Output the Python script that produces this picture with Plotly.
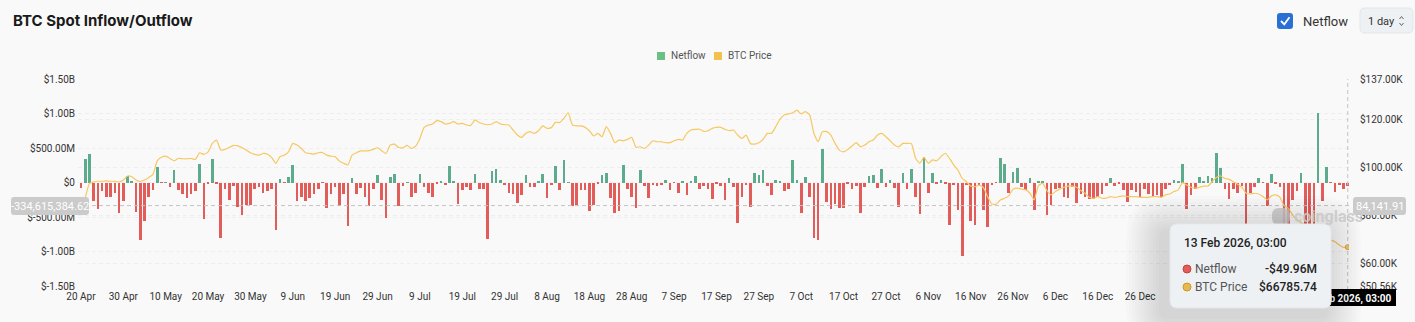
import pandas as pd
import plotly.graph_objects as go

# ---------------- data ----------------
start_date = "2025-04-20"

# daily spot netflow, millions of USD
netflow_m = [
    -80, 340, 415, -275, -385, -130, -217, -210, -145, -445,
    -265, 100, 20, -425, -835, -565, -210, -110, 230, -5,
    5, -58, 185, -105, -170, -230, -170, -130, 275, -525,
    -25, 345, -25, -810, -90, -260, -50, -360, -470, -330,
    -325, -90, -70, -145, -120, -90, -690, 50, -5, 80,
    255, -275, -210, -275, -218, -165, -90, -5, -370, -170,
    -58, -340, -170, -625, 72, -160, -82, -215, -340, -97,
    105, -250, -515, 77, 120, -340, -48, 5, -203, -155,
    125, -58, -145, -210, -20, 25, -30, 240, 15, -315,
    -105, -68, -115, 130, -88, -88, -815, 160, 195, 40,
    -30, -155, -165, -290, -180, 115, -58, -58, 20, 125,
    -230, -40, 245, -105, 330, 5, -340, -330, -115, -115,
    -415, -330, -20, 110, 140, -230, -440, -410, 250, -88,
    -210, -370, 180, -48, -230, -40, -53, -35, 40, -115,
    -5, -145, 10, -185, 15, 90, -97, -48, -97, -245,
    -15, -45, -250, 72, -68, -589, -212, -30, -358, 135,
    116, 188, -53, -188, 30, 10, -126, -87, 328, 39,
    -444, 87, -208, -802, -831, 488, -285, -377, -309, -367,
    -367, -15, -97, -48, -444, -72, 92, 111, -77, 193,
    -58, 30, -77, -348, 135, -101, 198, -217, -459, 367,
    -150, 140, -15, 39, -10, -613, -40, -400, -1072, -30,
    -565, -618, -40, -401, -638, -30, -5, 353, 266, -145,
    159, 213, -72, -106, 72, -401, 10, 20, -478, -329,
    -97, -77, -208, -222, -58, -300, -160, -203, -232, -242,
    -203, -169, -48, 72, -48, -24, -106, -285, -106, -140,
    -213, -97, -169, -213, -174, -213, -87, -39, 34, 24,
    266, -386, -188, -97, 82, 24, 92, 63, 425, 203,
    -97, -242, -97, -145, -48, -620, -145, -68, 63, -5,
    -338, 126, -24, -58, -650, -600, -251, -130, 135, -720,
    -700, -640, 1014, -266, 227, -5, -135, -34, -87, -49.96,
]

# BTC price, thousands of USD
btc_price_k = [
    85.2, 87.6, 93.4, 94.0, 94.3, 94.3, 94.5, 94.3, 94.3, 94.0,
    94.8, 96.5, 96.2, 94.8, 94.2, 94.8, 95.9, 97.2, 102.8, 104.3,
    104.8, 103.8, 102.9, 103.9, 103.7, 103.7, 103.8, 103.4, 106.2, 105.5,
    106.6, 110.1, 111.5, 107.3, 107.6, 108.4, 109.3, 109.1, 108.4, 107.3,
    106.2, 105.5, 105.2, 105.9, 105.6, 104.3, 101.8, 104.6, 105.2, 106.6,
    110.1, 109.4, 108.0, 106.2, 105.9, 105.6, 106.2, 106.3, 105.2, 104.8,
    104.5, 102.7, 101.8, 101.1, 105.2, 106.2, 107.0, 107.0, 107.1, 107.6,
    108.3, 107.0, 105.9, 109.4, 109.8, 108.4, 108.3, 109.3, 108.0, 109.0,
    112.2, 116.8, 117.8, 118.2, 119.6, 119.2, 118.2, 118.5, 119.2, 118.2,
    118.5, 117.8, 117.6, 119.9, 118.8, 118.2, 117.9, 118.2, 119.2, 118.2,
    117.9, 117.8, 115.7, 113.6, 112.6, 114.3, 115.0, 114.3, 115.4, 117.4,
    116.4, 116.7, 118.9, 118.8, 120.6, 122.9, 117.8, 117.4, 117.4, 116.8,
    115.4, 113.2, 114.3, 112.9, 117.1, 114.3, 110.4, 111.5, 111.2, 111.8,
    112.6, 108.5, 108.7, 108.0, 109.4, 111.2, 110.8, 110.8, 110.4, 110.4,
    111.2, 111.8, 111.5, 114.3, 115.7, 116.0, 116.0, 115.1, 115.4, 116.4,
    116.8, 116.8, 116.0, 115.4, 115.7, 113.6, 112.2, 113.6, 110.1, 109.8,
    110.4, 111.8, 114.3, 114.3, 117.1, 120.2, 122.0, 122.4, 122.9, 124.0,
    122.4, 123.4, 122.0, 114.3, 110.8, 115.0, 115.0, 113.6, 110.1, 107.3,
    106.6, 107.6, 109.0, 110.4, 108.7, 109.4, 110.8, 111.5, 113.6, 114.3,
    112.9, 111.2, 109.4, 108.7, 110.1, 110.1, 110.1, 103.9, 101.8, 104.3,
    101.8, 103.2, 102.9, 104.6, 106.0, 103.9, 101.1, 99.0, 95.5, 94.1,
    92.3, 92.0, 92.7, 91.7, 87.9, 84.8, 84.7, 86.5, 87.2, 88.2,
    91.0, 91.4, 91.0, 90.7, 89.3, 86.5, 92.5, 93.4, 90.4, 88.6,
    90.0, 91.0, 91.8, 92.3, 92.3, 91.8, 90.4, 89.3, 87.6, 87.2,
    87.9, 87.2, 87.2, 87.9, 87.6, 87.9, 88.2, 87.9, 87.9, 87.9,
    87.6, 87.6, 87.6, 87.9, 87.9, 87.6, 88.6, 89.0, 90.0, 90.7,
    93.7, 92.7, 91.8, 91.4, 91.8, 92.3, 92.3, 94.1, 95.9, 96.5,
    95.5, 95.1, 94.1, 93.1, 91.8, 89.3, 89.0, 89.3, 89.0, 87.9,
    86.5, 88.2, 88.6, 87.6, 84.0, 83.0, 80.2, 78.4, 77.0, 75.6,
    72.8, 65.5, 70.6, 70.9, 70.0, 69.7, 69.0, 67.7, 66.7, 66.78574,
]

left_tick_vals = [1.5e9, 1.0e9, 0.5e9, 0, -0.5e9, -1.0e9, -1.5e9]
left_tick_text = ["$1.50B", "$1.00B", "$500.00M", "$0", "$-500.00M", "$-1.00B", "$-1.50B"]
right_tick_vals = [137000, 120000, 100000, 80000, 60000, 50560]
right_tick_text = ["$137.00K", "$120.00K", "$100.00K", "$80.00K", "$60.00K", "$50.56K"]
# date ticks every ten days (the January/February ones sit under the tooltip)
x_tick_dates = pd.date_range("2025-04-20", "2025-12-26", freq="10D")

cursor_netflow = -334615384.62
cursor_price = 84141.91
hover_label = "13 Feb 2026, 03:00"

# ---------------- derived series ----------------
dates = pd.date_range(start_date, periods=len(netflow_m), freq="D")
netflow = [v * 1e6 for v in netflow_m]
price = [v * 1e3 for v in btc_price_k]

GREEN = "#5dab8d"
RED = "#e25c5a"
GOLD = "#f6c862"
bar_colors = [GREEN if v >= 0 else RED for v in netflow]

# ---------------- geometry helpers (pixel -> paper) ----------------
W, H = 1415, 322
ML, MR, MT, MB = 78, 66, 79, 36
PW, PH = W - ML - MR, H - MT - MB


def X(px):
    return (px - ML) / PW


def Y(py):
    return (H - MB - py) / PH


def rrect(x0, y0, x1, y1, r):
    return (
        f"M {X(x0 + r)},{Y(y0)} L {X(x1 - r)},{Y(y0)} "
        f"Q {X(x1)},{Y(y0)} {X(x1)},{Y(y0 + r)} L {X(x1)},{Y(y1 - r)} "
        f"Q {X(x1)},{Y(y1)} {X(x1 - r)},{Y(y1)} L {X(x0 + r)},{Y(y1)} "
        f"Q {X(x0)},{Y(y1)} {X(x0)},{Y(y1 - r)} L {X(x0)},{Y(y0 + r)} "
        f"Q {X(x0)},{Y(y0)} {X(x0 + r)},{Y(y0)} Z"
    )


def text(px, py, s, size=10, color="#333", xanchor="left", weight="normal",
         family="Roboto"):
    return dict(x=X(px), y=Y(py), xref="paper", yref="paper", text=s,
                showarrow=False, xanchor=xanchor, yanchor="middle",
                font=dict(family=family, size=size, color=color, weight=weight))


# ---------------- figure ----------------
fig = go.Figure()
fig.add_trace(go.Bar(
    x=dates, y=netflow, name="Netflow", marker=dict(color=bar_colors, line=dict(width=0)),
    width=0.62 * 86400000, showlegend=False, hoverinfo="skip",
))
fig.add_trace(go.Scatter(
    x=dates, y=price, name="BTC Price", yaxis="y2", mode="lines",
    line=dict(color=GOLD, width=1.2, shape="spline", smoothing=0.5),
    showlegend=False, hoverinfo="skip",
))
# end-of-series price marker
fig.add_trace(go.Scatter(
    x=[dates[-1]], y=[price[-1]], yaxis="y2", mode="markers",
    marker=dict(color=GOLD, size=5, line=dict(color="#e0a830", width=1)),
    showlegend=False, hoverinfo="skip",
))

day = pd.Timedelta(days=1)
grid = dict(showgrid=True, gridcolor="#eeeeee", griddash="4px,3px", gridwidth=1)
axis_font = dict(family="Roboto", size=10, color="#333")

fig.update_layout(
    width=W, height=H,
    margin=dict(l=ML, r=MR, t=MT, b=MB),
    paper_bgcolor="#f9f9f9", plot_bgcolor="#f9f9f9",
    bargap=0,
    xaxis=dict(
        type="date",
        range=[str(dates[0] - 0.7 * day), str(dates[-1] + 0.3 * day)],
        tickvals=list(x_tick_dates),
        ticktext=[f"{d.day} {d.strftime('%b')}" for d in x_tick_dates],
        showgrid=False, zeroline=False, showline=False, ticks="",
        tickfont=axis_font, ticklabelstandoff=3,
    ),
    yaxis=dict(
        range=[-1.5e9, 1.5e9], tickvals=left_tick_vals, ticktext=left_tick_text,
        zeroline=False, showline=False, ticks="", tickfont=axis_font,
        ticklabelstandoff=2, **grid,
    ),
    yaxis2=dict(
        overlaying="y", side="right", range=[50560, 137000],
        tickvals=right_tick_vals, ticktext=right_tick_text,
        zeroline=False, showline=False, ticks="", tickfont=axis_font,
        ticklabelstandoff=10, **grid,
    ),
)

shapes = []
annotations = []

# watermark (light, drawn over the bars)
shapes.append(dict(type="path", xref="paper", yref="paper",
                   path=rrect(1272, 208, 1290, 225, 7),
                   fillcolor="rgba(205,205,205,0.85)", line=dict(width=0), layer="above"))
annotations.append(text(1292, 216, "coinglass", size=16, color="rgba(200,200,200,0.85)",
                        weight="bold"))

# crosshair lines
shapes.append(dict(type="line", xref="paper", yref="y", x0=0, x1=1,
                   y0=cursor_netflow, y1=cursor_netflow,
                   line=dict(color="#c4c4c4", width=1, dash="4px,3px"), layer="above"))
shapes.append(dict(type="line", xref="x", yref="paper", x0=dates[-1], x1=dates[-1],
                   y0=Y(290), y1=1,
                   line=dict(color="#c4c4c4", width=1, dash="4px,3px"), layer="above"))

# crosshair value boxes
shapes.append(dict(type="path", xref="paper", yref="paper", path=rrect(11, 197, 89, 215, 3),
                   fillcolor="#cbcbcb", line=dict(width=0), layer="above"))
shapes.append(dict(type="path", xref="paper", yref="paper", path=rrect(1353, 197, 1406, 215, 3),
                   fillcolor="#cbcbcb", line=dict(width=0), layer="above"))
annotations.append(text(50, 206.5, f"{cursor_netflow:,.2f}", size=11, color="white",
                        xanchor="center"))
annotations.append(text(1379.5, 206.5, f"{cursor_price:,.2f}", size=11, color="white",
                        xanchor="center"))

# date box under the cursor (partly covered by the tooltip)
shapes.append(dict(type="rect", xref="paper", yref="paper",
                   x0=X(1300), x1=X(1396), y0=Y(306), y1=Y(289),
                   fillcolor="#000000", line=dict(width=0), layer="above",
                   label=dict(text=hover_label,
                              font=dict(family="Roboto", size=10, color="white", weight="bold"))))

# tooltip shadow + body
tx0, ty0, tx1, ty1 = 1170, 224, 1331, 308
for k in range(12, 0, -1):
    g = 3 * k
    shapes.append(dict(type="path", xref="paper", yref="paper",
                       path=rrect(tx0 - g - 8, ty0 - g + 8, tx1 + g - 6, ty1 + g + 8, 6 + g),
                       fillcolor="rgba(0,0,0,0.011)", line=dict(width=0), layer="above"))
shapes.append(dict(type="path", xref="paper", yref="paper", path=rrect(tx0, ty0, tx1, ty1, 7),
                   fillcolor="#eef1f4", line=dict(color="#e3e7eb", width=1), layer="above"))

# tooltip series dots
for cy, col, edge in [(269, RED, "#c9403e"), (287, "#e8b94a", "#c99a2c")]:
    shapes.append(dict(type="circle", xref="paper", yref="paper",
                       x0=X(1183), x1=X(1191), y0=Y(cy + 4), y1=Y(cy - 4),
                       fillcolor=col, line=dict(color=edge, width=1), layer="above"))

annotations.append(text(1182, 243, hover_label, size=12, color="#222", weight=500))
annotations.append(text(1193, 269, "Netflow", size=12, color="#555"))
annotations.append(text(1319, 269, f"-${abs(netflow_m[-1]):.2f}M", size=12, color="#222",
                        xanchor="right", weight=500))
annotations.append(text(1193, 287, "BTC Price", size=12, color="#555"))
annotations.append(text(1319, 287, f"${price[-1]:.2f}", size=12, color="#222",
                        xanchor="right", weight=500))

# title
annotations.append(text(11, 20, "BTC Spot Inflow/Outflow", size=15, color="#1a1a1a",
                        weight="bold", family="Inter"))

# legend
shapes.append(dict(type="rect", xref="paper", yref="paper", x0=X(657), x1=X(665),
                   y0=Y(60), y1=Y(52), fillcolor="#6cc086", line=dict(width=0), layer="above"))
annotations.append(text(669, 56, "Netflow", size=10, color="#555"))
shapes.append(dict(type="rect", xref="paper", yref="paper", x0=X(714), x1=X(722),
                   y0=Y(60), y1=Y(52), fillcolor="#f3c14e", line=dict(width=0), layer="above"))
annotations.append(text(726, 56, "BTC Price", size=10, color="#555"))

# netflow checkbox
shapes.append(dict(type="path", xref="paper", yref="paper", path=rrect(1277, 13, 1293, 29, 3),
                   fillcolor="#2a6fd3", line=dict(width=0), layer="above"))
shapes.append(dict(type="path", xref="paper", yref="paper",
                   path=f"M {X(1281)},{Y(21)} L {X(1284.3)},{Y(24.3)} L {X(1289.5)},{Y(17.2)}",
                   line=dict(color="white", width=1.8), layer="above"))
annotations.append(text(1301, 21, "Netflow", size=13, color="#333"))

# interval selector
shapes.append(dict(type="path", xref="paper", yref="paper", path=rrect(1360, 8, 1413, 33, 5),
                   fillcolor="#eef1f4", line=dict(color="#e2e5e9", width=1), layer="above"))
annotations.append(text(1366, 21, "1 day", size=11, color="#333"))
shapes.append(dict(type="path", xref="paper", yref="paper",
                   path=f"M {X(1399.5)},{Y(19)} L {X(1401.5)},{Y(16.5)} L {X(1403.5)},{Y(19)}",
                   line=dict(color="#666", width=1), layer="above"))
shapes.append(dict(type="path", xref="paper", yref="paper",
                   path=f"M {X(1399.5)},{Y(23)} L {X(1401.5)},{Y(25.5)} L {X(1403.5)},{Y(23)}",
                   line=dict(color="#666", width=1), layer="above"))

fig.update_layout(shapes=shapes, annotations=annotations)
fig.write_html("out.html")
